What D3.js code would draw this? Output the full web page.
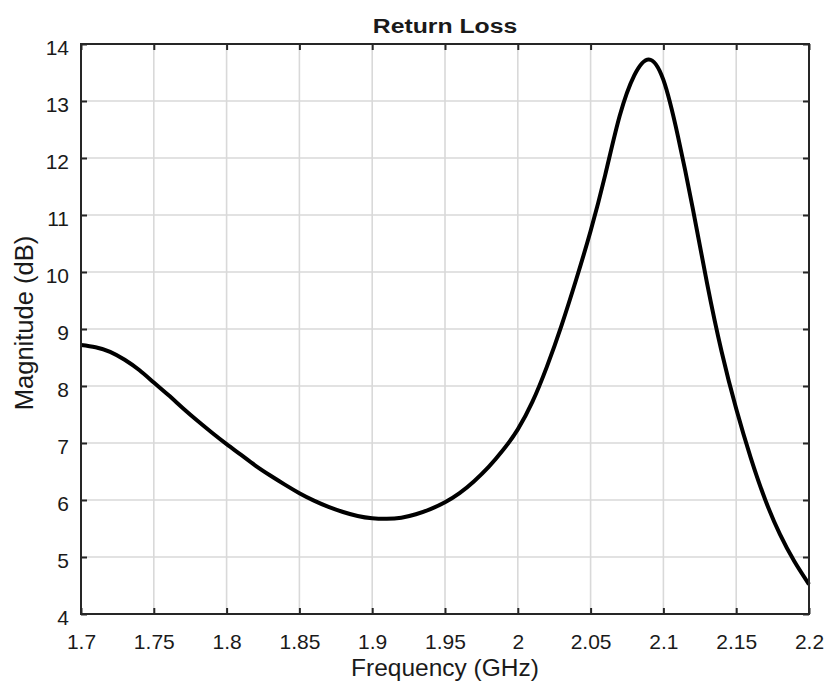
<!DOCTYPE html>
<html>
<head>
<meta charset="utf-8">
<script src="https://cdn.jsdelivr.net/npm/d3@7"></script>
<style>
  html, body { margin: 0; padding: 0; background: #ffffff; }
  svg { display: block; }
  text { font-family: "Liberation Sans", Arial, sans-serif; fill: #1a1a1a; }
</style>
</head>
<body>
<svg id="chart" width="827" height="686"></svg>
<script>
// Return loss sweep, 1.7 - 2.2 GHz in 10 MHz steps
const frequencyGHz = [
  1.70, 1.71, 1.72, 1.73, 1.74, 1.75, 1.76, 1.77, 1.78, 1.79,
  1.80, 1.81, 1.82, 1.83, 1.84, 1.85, 1.86, 1.87, 1.88, 1.89,
  1.90, 1.91, 1.92, 1.93, 1.94, 1.95, 1.96, 1.97, 1.98, 1.99,
  2.00, 2.01, 2.02, 2.03, 2.04, 2.05, 2.06, 2.07, 2.08, 2.09,
  2.10, 2.11, 2.12, 2.13, 2.14, 2.15, 2.16, 2.17, 2.18, 2.19,
  2.20
];
const magnitudeDB = [
  8.72, 8.68, 8.60, 8.46, 8.28, 8.06, 7.84, 7.61, 7.39, 7.18,
  6.98, 6.79, 6.60, 6.43, 6.27, 6.12, 5.99, 5.88, 5.79, 5.72,
  5.68, 5.67, 5.69, 5.75, 5.84, 5.96, 6.12, 6.33, 6.58, 6.88,
  7.24, 7.72, 8.34, 9.06, 9.86, 10.72, 11.70, 12.74, 13.45, 13.73,
  13.37, 12.38, 11.14, 9.80, 8.60, 7.60, 6.74, 6.00, 5.40, 4.92,
  4.52
];

const xTickValues = [1.7, 1.75, 1.8, 1.85, 1.9, 1.95, 2.0, 2.05, 2.1, 2.15, 2.2];
const xTickLabels = ["1.7", "1.75", "1.8", "1.85", "1.9", "1.95", "2", "2.05", "2.1", "2.15", "2.2"];
const yTickValues = [4, 5, 6, 7, 8, 9, 10, 11, 12, 13, 14];
const yTickLabels = ["4", "5", "6", "7", "8", "9", "10", "11", "12", "13", "14"];

const titleText = "Return Loss";
const xLabelText = "Frequency (GHz)";
const yLabelText = "Magnitude (dB)";

const margin = { top: 44, right: 18, bottom: 72, left: 81 };
const W = 827, H = 686;
const innerW = W - margin.left - margin.right;
const innerH = H - margin.top - margin.bottom;

const svg = d3.select("#chart");
const g = svg.append("g").attr("transform", `translate(${margin.left},${margin.top})`);

const x = d3.scaleLinear().domain([1.7, 2.2]).range([0, innerW]);
const y = d3.scaleLinear().domain([4, 14]).range([innerH, 0]);

// grid
const grid = g.append("g").attr("class", "grid");
grid.selectAll("line.gx").data(xTickValues.slice(1, -1)).join("line")
  .attr("x1", d => x(d)).attr("x2", d => x(d))
  .attr("y1", 0).attr("y2", innerH)
  .attr("stroke", "#d9d9d9").attr("stroke-width", 1.6);
grid.selectAll("line.gy").data(yTickValues.slice(1, -1)).join("line")
  .attr("y1", d => y(d)).attr("y2", d => y(d))
  .attr("x1", 0).attr("x2", innerW)
  .attr("stroke", "#d9d9d9").attr("stroke-width", 1.6);

// curve
const line = d3.line()
  .x((d, i) => x(frequencyGHz[i]))
  .y(d => y(d))
  .curve(d3.curveNatural);
g.append("path")
  .datum(magnitudeDB)
  .attr("d", line)
  .attr("fill", "none")
  .attr("stroke", "#000")
  .attr("stroke-width", 4)
  .attr("stroke-linejoin", "round");

// axes: inward ticks on all four sides
const tickLen = 6;
const axisColor = "#262626";
const axBottom = d3.axisBottom(x).tickValues(xTickValues)
  .tickFormat((d, i) => xTickLabels[i]).tickSizeInner(-tickLen).tickSizeOuter(0).tickPadding(18);
const axTop = d3.axisTop(x).tickValues(xTickValues)
  .tickFormat("").tickSizeInner(-tickLen).tickSizeOuter(0);
const axLeft = d3.axisLeft(y).tickValues(yTickValues)
  .tickFormat((d, i) => yTickLabels[i]).tickSizeInner(-tickLen).tickSizeOuter(0).tickPadding(12);
const axRight = d3.axisRight(y).tickValues(yTickValues)
  .tickFormat("").tickSizeInner(-tickLen).tickSizeOuter(0);

function styleAxis(sel) {
  sel.select(".domain").remove();
  sel.selectAll(".tick line").attr("stroke", axisColor).attr("stroke-width", 2);
  sel.selectAll(".tick text").attr("fill", "#1a1a1a").style("font-size", "21px")
     .style("font-family", "'Liberation Sans', Arial, sans-serif");
}

const gb = g.append("g").attr("transform", `translate(0,${innerH})`).call(axBottom).call(styleAxis);
gb.selectAll(".tick text").attr("dy", null).attr("y", 35);
g.append("g").call(axTop).call(styleAxis);
const gl = g.append("g").call(axLeft).call(styleAxis);
gl.selectAll(".tick text").attr("dy", null).attr("x", -12).attr("y", 10);
g.append("g").attr("transform", `translate(${innerW},0)`).call(axRight).call(styleAxis);

// frame
g.append("rect")
  .attr("x", 0).attr("y", 0).attr("width", innerW).attr("height", innerH)
  .attr("fill", "none").attr("stroke", axisColor).attr("stroke-width", 2);

// title and labels
const cx = margin.left + innerW / 2;
svg.append("text")
  .attr("x", cx).attr("y", 33)
  .attr("text-anchor", "middle")
  .style("font-size", "21px").style("font-weight", "bold")
  .attr("transform", `translate(${cx},0) scale(1.18,1) translate(${-cx},0)`)
  .text(titleText);

svg.append("text")
  .attr("x", cx).attr("y", 676)
  .attr("text-anchor", "middle")
  .style("font-size", "24.5px")
  .text(xLabelText);

svg.append("text")
  .attr("transform", `translate(33,323) rotate(-90)`)
  .attr("text-anchor", "middle")
  .style("font-size", "25.5px")
  .text(yLabelText);
</script>
</body>
</html>
